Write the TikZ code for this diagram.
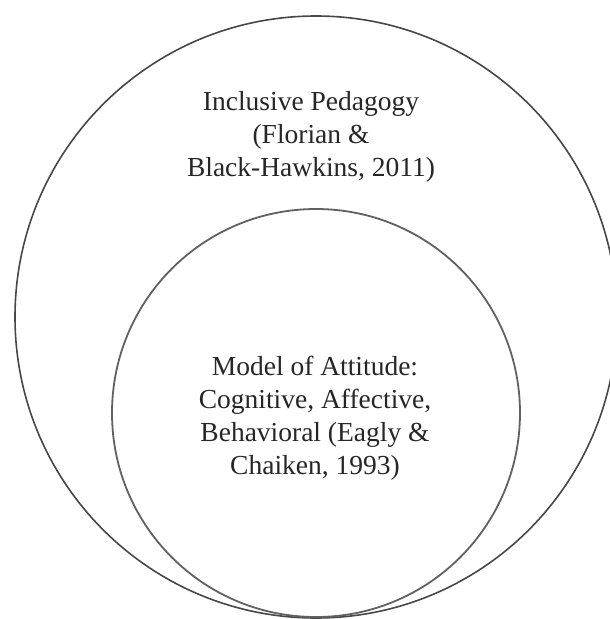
\documentclass[tikz,border=0pt]{standalone}
\usepackage{fontspec}
\setmainfont{Liberation Serif}
\begin{document}
\begin{tikzpicture}[x=1pt,y=-1pt,
                ring/.style = {circle,draw=black!72,line width=1.6pt,inner sep=0pt},
                label/.style = {align=center,inner sep=0pt,text=black!85,
                    font=\fontsize{27.5}{33}\selectfont}]
                \useasboundingbox (0,0) rectangle (610,619);

                \node[ring,minimum size=602pt] (outer) at (316,317) {};
                \node[ring,draw=black!62,line width=1.8pt,minimum size=408pt] (inner) at (316,413) {};

                \node[label] (pedagogy) at (311,137)
                    {Inclusive Pedagogy\\(Florian \&\\Black-Hawkins, 2011)};
                \node[label] (attitude) at (315,418)
                    {Model of Attitude:\\Cognitive, Affective,\\Behavioral (Eagly \&\\Chaiken, 1993)};
            \end{tikzpicture}
\end{document}
